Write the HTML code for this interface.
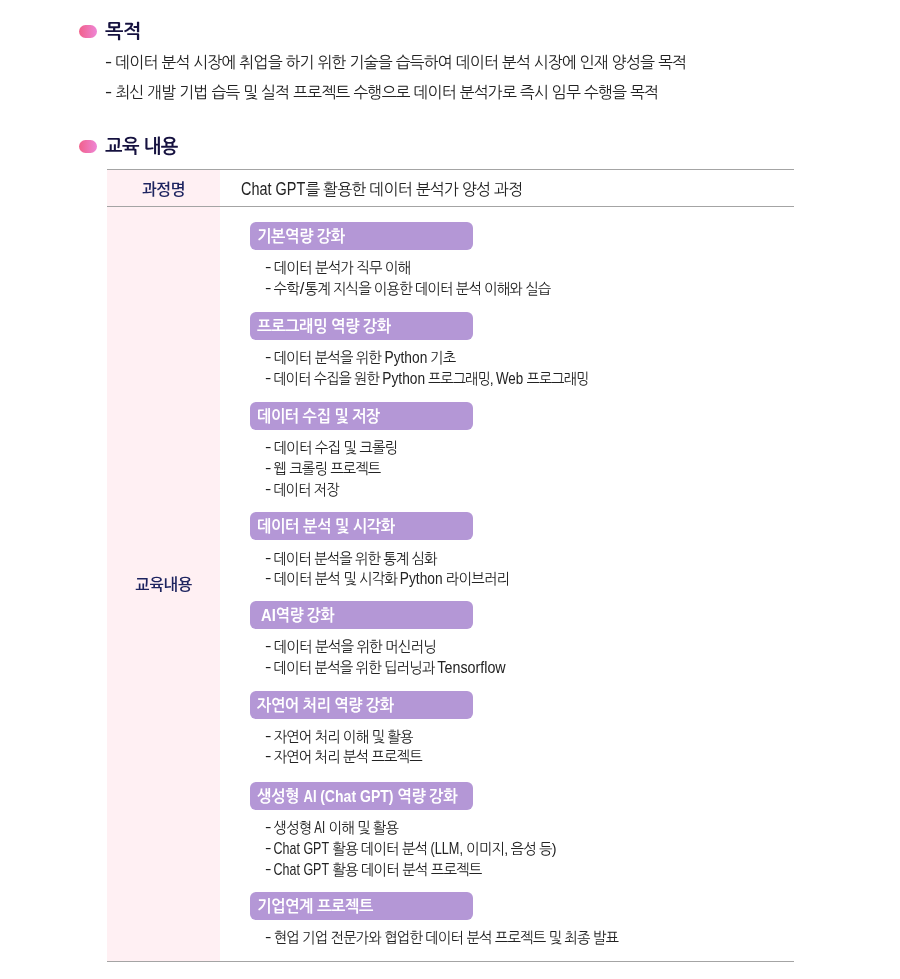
<!DOCTYPE html>
<html lang="ko">
<head>
<meta charset="utf-8">
<title>교육 내용</title>
<style>
html,body{margin:0;padding:0;background:#fff;}
body{width:900px;height:979px;position:relative;overflow:hidden;
  font-family:"Liberation Sans","NanumGothic","Noto Sans CJK KR",sans-serif;color:#222;}
.pill{position:absolute;left:79px;width:18px;height:13px;border-radius:7px;
  background:linear-gradient(90deg,#f1608b 0%,#ee86d6 100%);}
.hr{position:absolute;left:107px;width:687px;height:1px;background:#a4a4a4;}
.lc{position:absolute;left:107px;width:113px;background:#fff0f3;}
.tag{position:absolute;left:250px;width:223px;height:28px;border-radius:6px;background:#b497d6;}
.t{position:absolute;white-space:nowrap;transform-origin:0 50%;}
.e{display:inline-block;letter-spacing:0;word-spacing:0;transform-origin:0 50%;white-space:nowrap;}
.d{display:inline-block;letter-spacing:0;position:relative;top:-1px;}
.d b{display:inline-block;font-weight:normal;transform:scaleX(1.35);transform-origin:0 50%;}
.h{font-weight:bold;color:#15113f;line-height:24px;}
.p{line-height:20px;color:#222;}
.li{line-height:20px;color:#222;}
.lab{font-family:"Liberation Sans","Noto Sans CJK KR",sans-serif;font-weight:500;color:#1e2460;line-height:20px;}
.tt{color:#fff;font-weight:bold;line-height:28px;}
.p{font-size:16px;letter-spacing:-0.68px;word-spacing:0px;}
.p .e{font-size:17.5px;}
.p .d{width:10.4px;}
.li{font-size:15px;letter-spacing:-0.8px;word-spacing:0px;}
.li .e{font-size:15.7px;}
.li .d{width:9.1px;}
.tt{font-size:16.5px;letter-spacing:-0.4px;word-spacing:0px;}
.tt .e{font-size:17.3px;}
.h{font-size:19.5px;letter-spacing:-0.5px;word-spacing:0px;}
.h .e{font-size:20px;}
.lab{font-size:16px;letter-spacing:-0.5px;word-spacing:0px;}
.lab .e{font-size:16px;}
</style>
</head>
<body>
<div class="pill" style="top:25px"></div>
<div class="pill" style="top:140px"></div>
<div class="hr" style="top:169px"></div>
<div class="lc" style="top:170px;height:36px"></div>
<div class="hr" style="top:206px"></div>
<div class="lc" style="top:207px;height:754px"></div>
<div class="t h" id="H1" style="top:19px;left:105.10px;transform:scaleX(1.0051)">목적</div>
<div class="t p" id="L0" style="top:53px;left:104.62px;transform:scaleX(0.9839)"><span class="d"><b>-</b> </span>데이터 분석 시장에 취업을 하기 위한 기술을 습득하여 데이터 분석 시장에 인재 양성을 목적</div>
<div class="t p" id="L1" style="top:83px;left:104.62px;transform:scaleX(0.9844)"><span class="d"><b>-</b> </span>최신 개발 기법 습득 및 실적 프로젝트 수행으로 데이터 분석가로 즉시 임무 수행을 목적</div>
<div class="t h" id="H2" style="top:134px;left:104.96px;transform:scaleX(0.9554)">교육 내용</div>
<div class="t lab" id="B1" style="top:180px;left:142.46px;transform:scaleX(1.0103)">과정명</div>
<div class="t p" id="L2" style="top:179px;left:241.12px;transform:scaleX(0.9877)"><span class="e" style="width:65.00px;transform:scaleX(0.8354)">Chat GPT</span>를 활용한 데이터 분석가 양성 과정</div>
<div class="t lab" id="B2" style="top:575px;left:135.40px;transform:scaleX(1.0049)">교육내용</div>
<div class="tag" style="top:222px"></div>
<div class="t tt" id="T0" style="top:222px;left:256.90px;transform:scaleX(0.9244)">기본역량 강화</div>
<div class="t li" id="L3" style="top:258px;left:264.70px;transform:scaleX(0.9547)"><span class="d"><b>-</b> </span>데이터 분석가 직무 이해</div>
<div class="t li" id="L4" style="top:279px;left:264.70px;transform:scaleX(0.9468)"><span class="d"><b>-</b> </span>수학<span class="e" style="width:6.13px;text-align:center;transform-origin:50% 50%;transform:scaleX(1.12)">/</span>통계 지식을 이용한 데이터 분석 이해와 실습</div>
<div class="tag" style="top:312px"></div>
<div class="t tt" id="T1" style="top:312px;left:257.30px;transform:scaleX(0.9269)">프로그래밍 역량 강화</div>
<div class="t li" id="L5" style="top:348px;left:264.70px;transform:scaleX(0.9485)"><span class="d"><b>-</b> </span>데이터 분석을 위한 <span class="e" style="width:45.12px;transform:scaleX(0.9239)">Python</span> 기초</div>
<div class="t li" id="L6" style="top:369px;left:264.70px;transform:scaleX(0.9311)"><span class="d"><b>-</b> </span>데이터 수집을 원한 <span class="e" style="width:45.97px;transform:scaleX(0.9412)">Python</span> 프로그래밍, <span class="e" style="width:29.32px;transform:scaleX(0.9171)">Web</span> 프로그래밍</div>
<div class="tag" style="top:402px"></div>
<div class="t tt" id="T2" style="top:402px;left:256.90px;transform:scaleX(0.9201)">데이터 수집 및 저장</div>
<div class="t li" id="L7" style="top:438px;left:264.70px;transform:scaleX(0.9519)"><span class="d"><b>-</b> </span>데이터 수집 및 크롤링</div>
<div class="t li" id="L8" style="top:459px;left:264.70px;transform:scaleX(0.9439)"><span class="d"><b>-</b> </span>웹 크롤링 프로젝트</div>
<div class="t li" id="L9" style="top:480px;left:264.70px;transform:scaleX(0.9310)"><span class="d"><b>-</b> </span>데이터 저장</div>
<div class="tag" style="top:512px"></div>
<div class="t tt" id="T3" style="top:512px;left:256.90px;transform:scaleX(0.9268)">데이터 분석 및 시각화</div>
<div class="t li" id="L10" style="top:549px;left:264.70px;transform:scaleX(0.9418)"><span class="d"><b>-</b> </span>데이터 분석을 위한 통계 심화</div>
<div class="t li" id="L11" style="top:569px;left:264.70px;transform:scaleX(0.9491)"><span class="d"><b>-</b> </span>데이터 분석 및 시각화 <span class="e" style="width:45.10px;transform:scaleX(0.9234)">Python</span> 라이브러리</div>
<div class="tag" style="top:601px"></div>
<div class="t tt" id="T4" style="top:601px;left:260.90px;transform:scaleX(0.9027)"><span class="e" style="width:16.39px;transform:scaleX(0.9487)">AI</span>역량 강화</div>
<div class="t li" id="L12" style="top:637px;left:264.70px;transform:scaleX(0.9557)"><span class="d"><b>-</b> </span>데이터 분석을 위한 머신러닝</div>
<div class="t li" id="L13" style="top:658px;left:264.70px;transform:scaleX(0.9471)"><span class="d"><b>-</b> </span>데이터 분석을 위한 딥러닝과 <span class="e" style="width:72.12px;transform:scaleX(0.9618)">Tensorflow</span></div>
<div class="tag" style="top:691px"></div>
<div class="t tt" id="T5" style="top:691px;left:257.30px;transform:scaleX(0.9200)">자연어 처리 역량 강화</div>
<div class="t li" id="L14" style="top:727px;left:264.70px;transform:scaleX(0.9482)"><span class="d"><b>-</b> </span>자연어 처리 이해 및 활용</div>
<div class="t li" id="L15" style="top:747px;left:264.70px;transform:scaleX(0.9470)"><span class="d"><b>-</b> </span>자연어 처리 분석 프로젝트</div>
<div class="tag" style="top:782px"></div>
<div class="t tt" id="T6" style="top:782px;left:256.90px;transform:scaleX(0.9293)">생성형 <span class="e" style="width:14.04px;transform:scaleX(0.8126)">AI</span> <span class="e" style="width:78.88px;transform:scaleX(0.8741)">(Chat GPT)</span> 역량 강화</div>
<div class="t li" id="L16" style="top:818px;left:264.70px;transform:scaleX(0.9483)"><span class="d"><b>-</b> </span>생성형 <span class="e" style="width:11.39px;transform:scaleX(0.7684)">AI</span> 이해 및 활용</div>
<div class="t li" id="L17" style="top:839px;left:264.70px;transform:scaleX(0.9508)"><span class="d"><b>-</b> </span><span class="e" style="width:58.37px;transform:scaleX(0.8369)">Chat GPT</span> 활용 데이터 분석 <span class="e" style="width:34.23px;transform:scaleX(0.8537)">(LLM,</span> 이미지, 음성 등)</div>
<div class="t li" id="L18" style="top:860px;left:264.70px;transform:scaleX(0.9531)"><span class="d"><b>-</b> </span><span class="e" style="width:58.23px;transform:scaleX(0.8349)">Chat GPT</span> 활용 데이터 분석 프로젝트</div>
<div class="tag" style="top:892px"></div>
<div class="t tt" id="T7" style="top:892px;left:256.90px;transform:scaleX(0.9281)">기업연계 프로젝트</div>
<div class="t li" id="L19" style="top:928px;left:264.70px;transform:scaleX(0.9493)"><span class="d"><b>-</b> </span>현업 기업 전문가와 협업한 데이터 분석 프로젝트 및 최종 발표</div>
<div class="hr" style="top:961px"></div>
</body>
</html>
